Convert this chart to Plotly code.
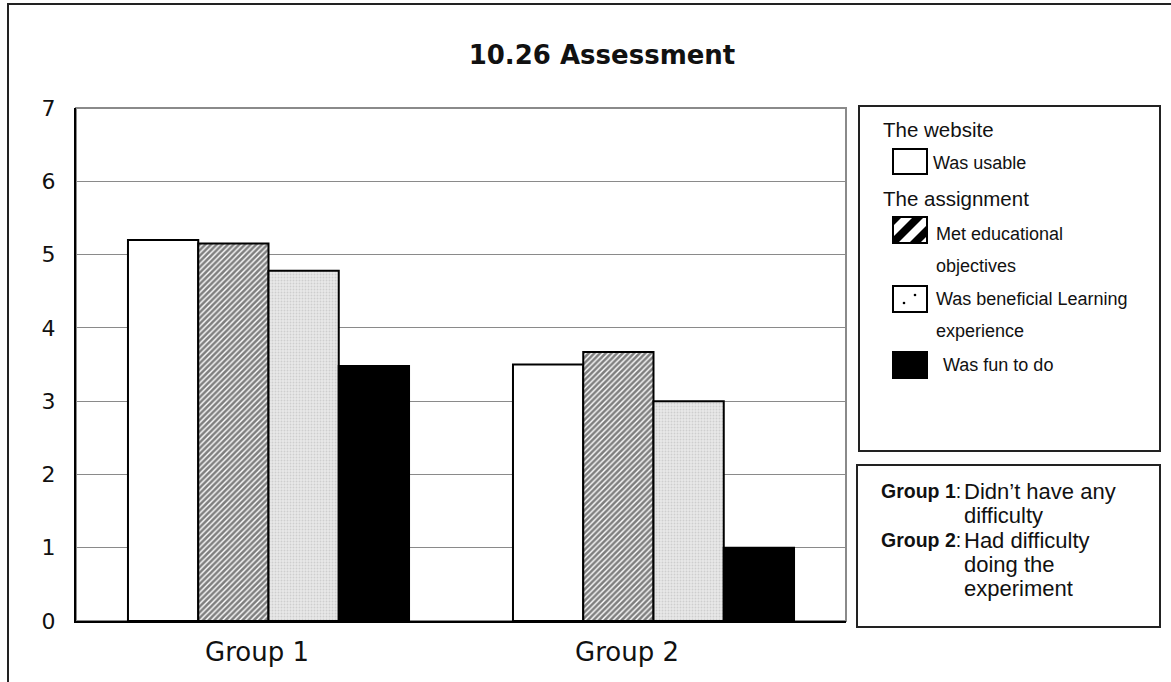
import plotly.graph_objects as go

# ---- data ----
groups = ["Group 1", "Group 2"]
series_names = ["Was usable", "Met educational objectives",
                "Was beneficial Learning experience", "Was fun to do"]
was_usable = [5.2, 3.5]
met_objectives = [5.15, 3.67]
beneficial = [4.78, 3.0]
fun_to_do = [3.48, 1.0]
series_values = [was_usable, met_objectives, beneficial, fun_to_do]
y_ticks = [0, 1, 2, 3, 4, 5, 6, 7]
legend_headings = ["The website", "The assignment"]
legend_lines = [["Was usable"], ["Met educational", "objectives"],
                ["Was beneficial Learning", "experience"], ["Was fun to do"]]
note_heads = ["Group 1", "Group 2"]
note_texts = [["Didn\u2019t have any", "difficulty"], ["Had difficulty", "doing the", "experiment"]]

# ---- styles ----
styles = [
    dict(color="white", pattern=None),
    dict(color="white", pattern=dict(shape="/", fgcolor="black", bgcolor="white", size=4, solidity=0.65)),
    dict(color="#e2e2e2", pattern=dict(shape=".", fgcolor="#b4b4b4", bgcolor="#e8e8e8", size=3, solidity=0.3)),
    dict(color="black", pattern=None),
]

W, H = 1171, 682
L, R, T, B = 76, 846, 108, 621

def px(xp):
    return (xp - L) / (R - L)

def py(yp):
    return (B - yp) / (B - T)

fig = go.Figure()
for name, vals, st in zip(series_names, series_values, styles):
    marker = dict(color=st["color"], line=dict(color="black", width=2))
    if st["pattern"] is not None:
        marker["pattern"] = st["pattern"]
    fig.add_trace(go.Bar(x=groups, y=vals, name=name, marker=marker, showlegend=False))

def clip(poly, xmin, xmax, ymin, ymax):
    def _clip(pts, inside, inter):
        out = []
        for i in range(len(pts)):
            cur, prev = pts[i], pts[i - 1]
            if inside(cur):
                if not inside(prev):
                    out.append(inter(prev, cur))
                out.append(cur)
            elif inside(prev):
                out.append(inter(prev, cur))
        return out
    def ix(xv):
        return lambda a, b: (xv, a[1] + (b[1] - a[1]) * (xv - a[0]) / (b[0] - a[0]))
    def iy(yv):
        return lambda a, b: (a[0] + (b[0] - a[0]) * (yv - a[1]) / (b[1] - a[1]), yv)
    pts = poly
    pts = _clip(pts, lambda p: p[0] >= xmin, ix(xmin)) if pts else pts
    pts = _clip(pts, lambda p: p[0] <= xmax, ix(xmax)) if pts else pts
    pts = _clip(pts, lambda p: p[1] >= ymin, iy(ymin)) if pts else pts
    pts = _clip(pts, lambda p: p[1] <= ymax, iy(ymax)) if pts else pts
    return pts

def path_from(pts):
    return "M " + " L ".join(f"{px(x):.5f},{py(y):.5f}" for x, y in pts) + " Z"

shapes = [
    # outer frame
    dict(type="rect", xref="paper", yref="paper", x0=px(8), x1=px(1185), y0=py(700), y1=py(4),
         line=dict(color="#222", width=2), layer="below"),
    # plot border (gray top/right)
    dict(type="rect", xref="paper", yref="paper", x0=0, x1=1, y0=0, y1=1,
         line=dict(color="#8a8a8a", width=2), layer="below"),
    # legend box
    dict(type="rect", xref="paper", yref="paper", x0=px(859), x1=px(1160), y0=py(451), y1=py(106),
         line=dict(color="#222", width=2)),
    # note box
    dict(type="rect", xref="paper", yref="paper", x0=px(857), x1=px(1160), y0=py(627), y1=py(465),
         line=dict(color="#222", width=2)),
]

# legend swatches
sw_x0, sw_x1 = 893, 927
sw_y = [(149, 174), (217, 243), (286, 312), (352, 378)]
sw_fill = ["white", "white", "white", "black"]
for (y0, y1), fc in zip(sw_y, sw_fill):
    shapes.append(dict(type="rect", xref="paper", yref="paper", x0=px(sw_x0), x1=px(sw_x1),
                       y0=py(y1), y1=py(y0), fillcolor=fc, line=dict(color="black", width=2)))
# hatched stripes
hy0, hy1 = sw_y[1]
for c0, c1 in [(1108, 1119), (1130, 1141), (1152, 1163)]:
    poly = [(c0 - hy1, hy1), (c1 - hy1, hy1), (c1 - hy0, hy0), (c0 - hy0, hy0)]
    pts = clip(poly, sw_x0, sw_x1, hy0, hy1)
    if len(pts) >= 3:
        shapes.append(dict(type="path", xref="paper", yref="paper", path=path_from(pts),
                           fillcolor="black", line=dict(width=0)))
# dotted swatch dots
for dx, dy in [(904, 303), (915, 295)]:
    shapes.append(dict(type="circle", xref="paper", yref="paper", x0=px(dx - 1.3), x1=px(dx + 1.3),
                       y0=py(dy + 1.3), y1=py(dy - 1.3), fillcolor="black", line=dict(width=0)))

head_font = dict(family="Liberation Sans", size=20.5, color="#111")
item_font = dict(family="Liberation Sans", size=18, color="#111")
note_head_font = dict(family="Liberation Sans", size=19.5, color="#111")
note_font = dict(family="Liberation Sans", size=22, color="#111")
tick_font = dict(family="DejaVu Sans", size=26, color="#111")

annotations = []
def add_text(txt, x, y, font, xanchor="left"):
    annotations.append(dict(text=txt, x=px(x), y=py(y), xref="paper", yref="paper",
                            xanchor=xanchor, yanchor="middle", showarrow=False, font=font, align="left"))

add_text(legend_headings[0], 881, 129, head_font)
add_text(legend_headings[1], 881, 198, head_font)
item_pos = [(931, [163]), (934, [234, 266]), (934, [299, 331]), (941, [365])]
for lines, (x, ys) in zip(legend_lines, item_pos):
    for t, y in zip(lines, ys):
        add_text(t, x, y, item_font)

note_y = [[491, 515], [540, 564, 588]]
for head, lines, ys in zip(note_heads, note_texts, note_y):
    add_text(f"<b>{head}</b>:", 879, ys[0], note_head_font)
    for t, y in zip(lines, ys):
        add_text(t, 962, y, note_font)

# category labels (placed slightly left of centre, as in the original)
label_shift = [-12, -27]
for g, sh in zip(groups, label_shift):
    annotations.append(dict(text=g, x=g, xref="x", y=py(652), yref="paper", xshift=sh,
                            xanchor="center", yanchor="middle", showarrow=False, font=tick_font))

fig.update_layout(
    width=W, height=H,
    margin=dict(l=L, r=W - R, t=T, b=H - B),
    paper_bgcolor="white", plot_bgcolor="white",
    barmode="group", bargap=0.27, bargroupgap=0,
    title=dict(text="<b>10.26 Assessment</b>", x=602 / W, xanchor="center",
               y=1 - 55 / H, yanchor="middle",
               font=dict(family="DejaVu Sans", size=26, color="#111")),
    showlegend=False,
    shapes=shapes,
    annotations=annotations,
    xaxis=dict(showline=True, linecolor="black", linewidth=2, showgrid=False,
               ticks="", showticklabels=False),
    yaxis=dict(range=[0, 7], tickvals=y_ticks, showline=True, linecolor="black", linewidth=2,
               showgrid=True, gridcolor="#8a8a8a", gridwidth=1, zeroline=False,
               ticks="", tickfont=dict(family="DejaVu Sans", size=22, color="#111"),
               ticklabelstandoff=14),
)

fig.write_html("out.html", post_script="document.body.style.margin='0px';",
               config={"displayModeBar": False})
